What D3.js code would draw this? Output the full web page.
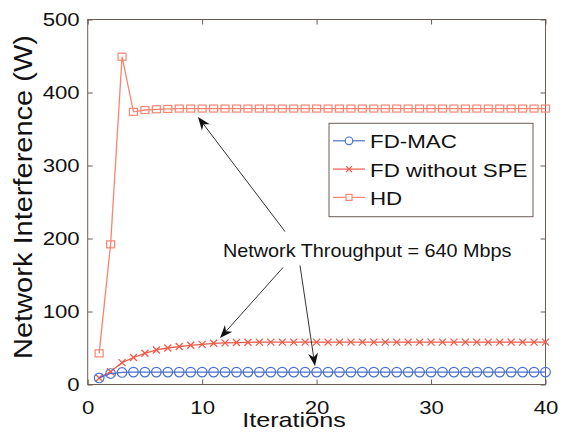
<!DOCTYPE html>
<html>
<head>
<meta charset="utf-8">
<script src="https://cdn.jsdelivr.net/npm/d3@7"></script>
<style>
  body { margin: 0; background: #fff; }
  text { font-family: "Liberation Sans", Arial, sans-serif; fill: #111; }
</style>
</head>
<body>
<svg id="chart" width="566" height="432"></svg>
<script>
// data
var iterations = d3.range(1, 41)
var fdMac = [9, 15, 16.5, 17, 17, 17, 17, 17, 17, 17,
             17, 17, 17, 17, 17, 17, 17, 17, 17, 17,
             17, 17, 17, 17, 17, 17, 17, 17, 17, 17,
             17, 17, 17, 17, 17, 17, 17, 17, 17, 17]
var fdNoSpe = [9, 17.5, 30, 37, 42.7, 47.3, 50, 52, 53.7, 55,
               56.4, 57, 57.5, 57.8, 58, 58, 58, 58, 58, 58,
               58, 58, 58, 58, 58, 58, 58, 58, 58, 58,
               58, 58, 58, 58, 58, 58, 58, 58, 58, 58]
var hd = [42.7, 192, 449, 373.5, 376, 377, 377.5, 378, 378, 378,
          378, 378, 378, 378, 378, 378, 378, 378, 378, 378,
          378, 378, 378, 378, 378, 378, 378, 378, 378, 378,
          378, 378, 378, 378, 378, 378, 378, 378, 378, 378]
var seriesNames = ["FD-MAC", "FD without SPE", "HD"]
var xTicks = [0, 10, 20, 30, 40]
var yTicks = [0, 100, 200, 300, 400, 500]
var note = "Network Throughput = 640 Mbps"
// annotation arrows [tailX, tailY, tipX, tipY] in data units
var arrows = [[17.24, 209.6, 9.64, 366.4],
              [17.07, 160.3, 11.56, 63.7],
              [18.55, 163.0, 19.86, 25.3]]

var colors = {mac: "#4a70cc", fd: "#ef5a49", hd: "#f98570"}
var axisColor = "#6b5d55"
var stretchK = 1.2   // the picture is a bit wider than tall text

var svg = d3.select("#chart")

var x = d3.scaleLinear().domain([0, 40]).range([87.7, 545.5])
var y = d3.scaleLinear().domain([0, 500]).range([384.5, 19.5])

function stretch(sel, k) {
  sel.each(function () {
    var w = this.getComputedTextLength()
    d3.select(this).attr("textLength", w * k).attr("lengthAdjust", "spacingAndGlyphs")
  })
}

// axes (MATLAB style box with inward ticks)
var gx = svg.append("g").attr("transform", "translate(0," + y(0) + ")")
  .call(d3.axisBottom(x).tickValues(xTicks).tickSizeInner(-5).tickSizeOuter(0).tickPadding(16))
var gy = svg.append("g").attr("transform", "translate(" + x(0) + ",0)")
  .call(d3.axisLeft(y).tickValues(yTicks).tickSizeInner(-5).tickSizeOuter(0).tickPadding(8))
var gt = svg.append("g").attr("transform", "translate(0," + y(500) + ")")
  .call(d3.axisTop(x).tickValues(xTicks).tickSizeInner(-5).tickSizeOuter(0).tickFormat(""))
var gr = svg.append("g").attr("transform", "translate(" + x(40) + ",0)")
  .call(d3.axisRight(y).tickValues(yTicks).tickSizeInner(-5).tickSizeOuter(0).tickFormat(""))

;[gx, gy, gt, gr].forEach(function (g) {
  g.select(".domain").remove()
  g.selectAll(".tick line").attr("stroke", axisColor)
})
gx.selectAll(".tick text").style("font-size", "18.5px").attr("fill", "#111")
gy.selectAll(".tick text").style("font-size", "18.5px").attr("fill", "#111")
stretch(gx.selectAll(".tick text"), stretchK)
stretch(gy.selectAll(".tick text"), stretchK)

svg.append("rect")
  .attr("x", x(0)).attr("y", y(500))
  .attr("width", x(40) - x(0)).attr("height", y(0) - y(500))
  .attr("fill", "none").attr("stroke", axisColor).attr("stroke-width", 1)

// axis labels
var xl = svg.append("text")
  .attr("x", 294).attr("y", 427).attr("text-anchor", "middle")
  .style("font-size", "21px").text("Iterations")
stretch(xl, 1.2)

var yl = svg.append("text")
  .attr("transform", "translate(32,197) rotate(-90)")
  .attr("text-anchor", "middle")
  .style("font-size", "25px").text("Network Interference (W)")
stretch(yl, 1.16)

// lines and markers
var line = d3.line().x(function (d) { return x(d[0]) }).y(function (d) { return y(d[1]) })

function series(vals) { return iterations.map(function (it, i) { return [it, vals[i]] }) }

var macPts = series(fdMac), fdPts = series(fdNoSpe), hdPts = series(hd)

svg.append("path").datum(hdPts).attr("d", line)
  .attr("fill", "none").attr("stroke", colors.hd).attr("stroke-width", 1.3)
svg.append("g").selectAll("rect").data(hdPts).enter().append("rect")
  .attr("x", function (d) { return x(d[0]) - 4 })
  .attr("y", function (d) { return y(d[1]) - 3.5 })
  .attr("width", 8).attr("height", 7)
  .attr("fill", "none").attr("stroke", colors.hd).attr("stroke-width", 1.2)

svg.append("path").datum(fdPts).attr("d", line)
  .attr("fill", "none").attr("stroke", colors.fd).attr("stroke-width", 1.3)
svg.append("g").selectAll("path").data(fdPts).enter().append("path")
  .attr("transform", function (d) { return "translate(" + x(d[0]) + "," + y(d[1]) + ")" })
  .attr("d", "M-3.5,-3.5L3.5,3.5M-3.5,3.5L3.5,-3.5")
  .attr("stroke", colors.fd).attr("stroke-width", 1.3)

svg.append("path").datum(macPts).attr("d", line)
  .attr("fill", "none").attr("stroke", colors.mac).attr("stroke-width", 1.2)
svg.append("g").selectAll("circle").data(macPts).enter().append("circle")
  .attr("cx", function (d) { return x(d[0]) })
  .attr("cy", function (d) { return y(d[1]) })
  .attr("r", 4.8)
  .attr("fill", "none").attr("stroke", colors.mac).attr("stroke-width", 1.2)

// annotation
var nt = svg.append("text")
  .attr("x", x(11.82)).attr("y", y(174.7))
  .style("font-size", "18.5px").text(note)
stretch(nt, 1.07)

arrows.forEach(function (a) {
  var x1 = x(a[0]), y1 = y(a[1]), x2 = x(a[2]), y2 = y(a[3])
  var dx = x2 - x1, dy = y2 - y1, len = Math.sqrt(dx * dx + dy * dy)
  var ux = dx / len, uy = dy / len, px = -uy, py = ux
  var hl = 13, hw = 5, notch = 9
  svg.append("line")
    .attr("x1", x1).attr("y1", y1)
    .attr("x2", x2 - ux * notch).attr("y2", y2 - uy * notch)
    .attr("stroke", "#333").attr("stroke-width", 1)
  var bx = x2 - ux * hl, by = y2 - uy * hl
  var pts = [[x2, y2], [bx + px * hw, by + py * hw],
             [x2 - ux * notch, y2 - uy * notch], [bx - px * hw, by - py * hw]]
  svg.append("path").attr("d", "M" + pts.join("L") + "Z").attr("fill", "#111")
})

// legend
var lg = svg.append("g")
lg.append("rect").attr("x", 329).attr("y", 123.3).attr("width", 204).attr("height", 93.4)
  .attr("fill", "#fff").attr("stroke", axisColor).attr("stroke-width", 1)
var legendColors = [colors.mac, colors.fd, colors.hd]
seriesNames.forEach(function (name, i) {
  var cy = 140.8 + i * 28.3
  lg.append("line").attr("x1", 333).attr("x2", 365).attr("y1", cy).attr("y2", cy)
    .attr("stroke", legendColors[i]).attr("stroke-width", 1.2)
  if (i == 0) {
    lg.append("circle").attr("cx", 349).attr("cy", cy).attr("r", 3.8)
      .attr("fill", "#fff").attr("stroke", colors.mac).attr("stroke-width", 1.2)
  } else if (i == 1) {
    lg.append("path").attr("transform", "translate(349," + cy + ")")
      .attr("d", "M-3,-3L3,3M-3,3L3,-3").attr("stroke", colors.fd).attr("stroke-width", 1.3)
  } else {
    lg.append("rect").attr("x", 346).attr("y", cy - 3).attr("width", 6).attr("height", 6)
      .attr("fill", "#fff").attr("stroke", colors.hd).attr("stroke-width", 1.2)
  }
  var t = lg.append("text").attr("x", 370).attr("y", cy + 7.5)
    .style("font-size", "18.6px").text(name)
  stretch(t, stretchK)
})
</script>
</body>
</html>
